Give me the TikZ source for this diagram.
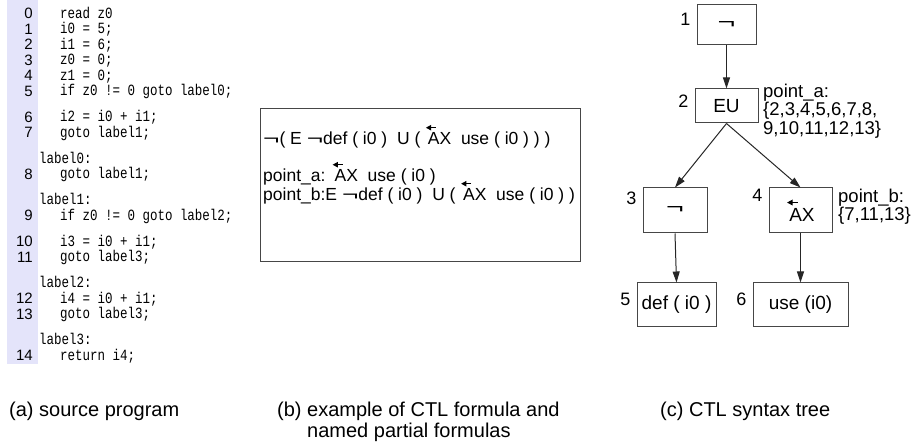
\documentclass[tikz,border=0pt]{standalone}
\usepackage{graphicx}
\usepackage{fontspec}
\setmainfont{Liberation Sans}
\newfontfamily\codefont{Liberation Mono}[FakeStretch=0.8]
\usetikzlibrary{arrows.meta,positioning}

\definecolor{codebg}{RGB}{228,228,250}
\definecolor{boxline}{RGB}{70,70,70}

% wide negation sign and backward AX
\newcommand{\wneg}{\scalebox{1.6}[1]{¬}}
\newcommand{\pastAX}{\tikz[baseline=(ax.base)]{%
  \node[draw=none,fill=none,anchor=center,inner sep=0pt,outer sep=0pt,
    minimum width=0pt,minimum height=0pt] (ax) {AX};
  \draw[-{Triangle[length=0.3em,width=0.3em]},line width=0.07em]
    ([xshift=0.45em,yshift=0.3em]ax.north west) -- ([xshift=-0.12em,yshift=0.3em]ax.north west);}}

\tikzset{
  codeline/.style={anchor=base west, inner sep=0pt, font=\fontsize{15.6}{15.6}\codefont},
  lineno/.style={anchor=base east, inner sep=0pt, font=\fontsize{15}{18}\selectfont},
  formula/.style={anchor=base west, inner sep=0pt, font=\fontsize{17.5}{19}\selectfont},
  treebox/.style={draw=boxline, line width=1pt, inner sep=0pt, font=\fontsize{19}{19}\selectfont},
  treenum/.style={anchor=north east, inner sep=0pt, font=\fontsize{18}{18}\selectfont},
  pointset/.style={anchor=north west, inner sep=0pt, align=left, font=\fontsize{18.5}{18.3}\selectfont},
  caption/.style={anchor=north west, inner sep=0pt, align=left, font=\fontsize{20}{21}\selectfont},
  arr/.style={-{Triangle[length=11pt,width=7pt]}, line width=1pt, draw=black!85},
}

\begin{document}
\begin{tikzpicture}[x=1pt,y=-1pt]
\useasboundingbox (0,0) rectangle (919,446);

% (a) source program
\fill[codebg] (7,0) rectangle (38,364);
\foreach \n/\y/\txt in {0/13.5/read z0, 1/29/i0 = 5;, 2/44.5/i1 = 6;, 3/60/z0 = 0;,
    4/75.5/z1 = 0;, 5/91/if z0 != 0 goto label0;, 6/117/i2 = i0 + i1;,
    7/132.5/goto label1;, 8/174/goto label1;, 9/215.5/if z0 != 0 goto label2;,
    10/241.5/i3 = i0 + i1;, 11/257/goto label3;, 12/298.5/i4 = i0 + i1;,
    13/314/goto label3;, 14/355.5/return i4;}{
  \node[lineno] (num\n) at (33,\y+5.5) {\n};
  \node[codeline] (line\n) at (60,\y+5) {\txt};
}
\foreach \k/\y in {0/158.5, 1/200, 2/283, 3/340}
  \node[codeline] (label\k) at (39,\y+5) {label\k:};

% (b) formula box
\node[draw=boxline, line width=1pt, minimum width=320, minimum height=153,
  anchor=north west, inner sep=0pt] (formbox) at (260,108) {};
\node[formula] (ctl) at (263,145) {\wneg( E \wneg def ( i0 )\ \ U ( \pastAX\ \ use ( i0 ) ) )};
\node[formula] (pta) at (263,182) {point\_a: \pastAX\ \ use ( i0 )};
\node[formula] (ptb) at (263,201) {point\_b:E \wneg def ( i0 )\ \ U ( \pastAX\ \ use ( i0 ) )};

% (c) syntax tree
\node[treebox, minimum width=59, minimum height=40] (t1) at (726.5,25) {\wneg};
\node[treebox, minimum width=63, minimum height=34] (t2) at (726.5,106) {EU};
\node[treebox, minimum width=64, minimum height=45] (t3) at (675,210.5) {\wneg};
\node[treebox, minimum width=63, minimum height=45] (t4) at (800.5,210.5) {\pastAX};
\node[treebox, minimum width=79, minimum height=44] (t5) at (676.5,305) {def ( i0 )};
\node[treebox, minimum width=95, minimum height=44] (t6) at (800.5,305) {use (i0)};
\foreach \b/\dy in {1/8, 2/6, 3/4, 4/1, 5/10, 6/10}
  \node[treenum] (n\b) at ([xshift=-6pt,yshift=-\dy pt]t\b.north west) {\b};

\draw[arr] (t1.south) -- (t2.north);
\draw[arr] (t2.south) -- (t3.north);
\draw[arr] (t2.south) -- (t4.north);
\draw[arr] (t3.south) -- (t5.north);
\draw[arr] (t4.south) -- (t6.north);

\node[pointset] (pa) at (763,84) {point\_a:\\\{2,3,4,5,6,7,8,\\9,10,11,12,13\}};
\node[pointset] (pb) at (838,189) {point\_b:\\\{7,11,13\}};

% captions
\node[caption] (capa) at (9,402) {(a) source program};
\node[caption] (capb) at (277,402) {(b) example of CTL formula and\\\hphantom{(b) }named partial formulas};
\node[caption] (capc) at (660,402) {(c) CTL syntax tree};
\end{tikzpicture}
\end{document}
